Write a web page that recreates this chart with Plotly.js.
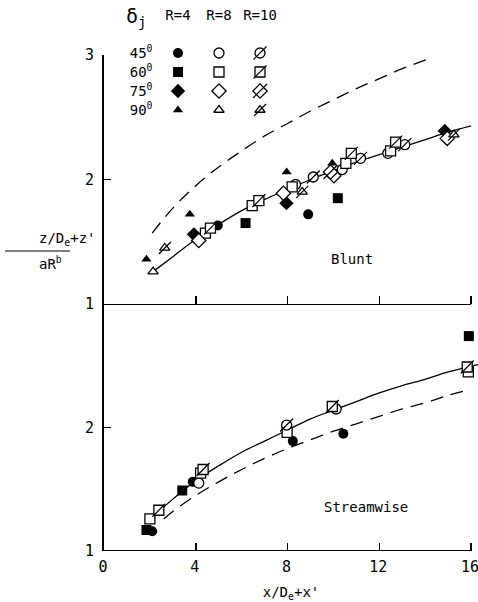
<!DOCTYPE html>
<html><head><meta charset="utf-8">
<script src="https://cdn.plot.ly/plotly-3.0.1.min.js"></script>
<style>body{margin:0;background:#fff}#chart{width:478px;height:602px}</style>
</head><body><div id="chart"></div><script>
// ---------- legend key categories ----------
const rLabels = ['R=4', 'R=8', 'R=10'];
const deltaLabels = ['45<sup>0</sup>', '60<sup>0</sup>', '75<sup>0</sup>', '90<sup>0</sup>'];
const xTicks = [0, 4, 8, 12, 16];
const yTicksTop = [1, 2, 3];
const yTicksBottom = [1, 2];

// ---------- Blunt panel (top) ----------
const blunt45R4X = [4.96, 8.90];              const blunt45R4Y = [1.63, 1.72];
const blunt60R4X = [6.17, 10.19];             const blunt60R4Y = [1.65, 1.85];
const blunt75R4X = [3.92, 7.95, 14.85];       const blunt75R4Y = [1.56, 1.81, 2.39];
const blunt90R4X = [1.85, 3.74, 7.96, 9.95];  const blunt90R4Y = [1.36, 1.72, 2.06, 2.13];
const blunt45R8X = [8.35, 10.38, 12.37];      const blunt45R8Y = [1.96, 2.08, 2.21];
const blunt60R8X = [4.42, 6.46, 8.20, 10.54, 12.49]; const blunt60R8Y = [1.57, 1.79, 1.94, 2.13, 2.23];
const blunt75R8X = [4.13, 7.82, 10.02, 14.96]; const blunt75R8Y = [1.51, 1.89, 2.03, 2.33];
const blunt90R8X = [2.14];                    const blunt90R8Y = [1.26];
const blunt45R10X = [9.12, 11.18, 13.11];     const blunt45R10Y = [2.02, 2.17, 2.28];
const blunt60R10X = [4.64, 6.75, 10.78, 12.71]; const blunt60R10Y = [1.61, 1.83, 2.21, 2.30];
const blunt75R10X = [9.87];                   const blunt75R10Y = [2.06];
const blunt90R10X = [2.65, 8.64, 15.25];      const blunt90R10Y = [1.45, 1.90, 2.36];
const bluntFitX  = [2.14, 3, 4, 5, 6, 7, 8, 9, 10, 11, 12, 13, 14, 15, 16];
const bluntFitY  = [1.26, 1.38, 1.52, 1.64, 1.75, 1.84, 1.92, 2.00, 2.07, 2.14, 2.20, 2.26, 2.32, 2.38, 2.43];
const bluntDashX = [2.1, 3, 4, 5, 6, 7, 8, 9, 10, 11, 12, 13, 14.3];
const bluntDashY = [1.57, 1.77, 1.95, 2.10, 2.23, 2.35, 2.45, 2.55, 2.64, 2.73, 2.81, 2.89, 2.98];

// ---------- Streamwise panel (bottom) ----------
const stream45R4X = [2.10, 3.87, 8.23, 10.43]; const stream45R4Y = [1.16, 1.56, 1.89, 1.95];
const stream60R4X = [1.85, 3.41, 15.90];       const stream60R4Y = [1.17, 1.49, 2.74];
const stream45R8X = [4.13, 10.12];             const stream45R8Y = [1.55, 2.15];
const stream60R8X = [2.00, 4.21, 7.98, 15.88]; const stream60R8Y = [1.26, 1.63, 1.96, 2.45];
const stream45R10X = [7.96];                   const stream45R10Y = [2.02];
const stream60R10X = [2.39, 4.32, 9.95, 15.83]; const stream60R10Y = [1.33, 1.66, 2.17, 2.49];
const streamFitX  = [1.9, 2.4, 3, 4, 5, 6, 7, 8, 9, 10, 11, 12, 13, 14, 15, 16.3];
const streamFitY  = [1.22, 1.32, 1.42, 1.57, 1.69, 1.80, 1.89, 1.98, 2.07, 2.14, 2.21, 2.28, 2.34, 2.39, 2.45, 2.51];
const streamDashX = [2.6, 3, 4, 5, 6, 7, 8, 9, 10, 11, 12, 13, 14, 15, 16];
const streamDashY = [1.26, 1.32, 1.45, 1.56, 1.66, 1.75, 1.83, 1.90, 1.97, 2.03, 2.09, 2.15, 2.20, 2.26, 2.31];

// ---------- styling ----------
const FONT = '"DejaVu Sans Mono", "Liberation Mono", monospace';
const shapes = ['circle', 'square', 'diamond', 'triangle-up'];
const sizes = [10, 10, 11, 9];

function markerTraces(x, y, d, r, xa, ya) {
  const out = [];
  out.push({
    type: 'scatter', mode: 'markers', x: x, y: y, xaxis: xa, yaxis: ya,
    cliponaxis: false, hoverinfo: 'skip', showlegend: false,
    marker: { symbol: shapes[d], size: sizes[d], color: r === 0 ? 'black' : 'white',
              line: { color: 'black', width: r === 0 ? 0 : 1.3 } }
  });
  if (r === 2) {
    out.push({
      type: 'scatter', mode: 'markers', x: x, y: y, xaxis: xa, yaxis: ya,
      cliponaxis: false, hoverinfo: 'skip', showlegend: false,
      marker: { symbol: 'line-ne', size: sizes[d] + 3, color: 'black',
                line: { color: 'black', width: 1.2 } }
    });
  }
  return out;
}
function lineTrace(x, y, dash, xa, ya) {
  return { type: 'scatter', mode: 'lines', x: x, y: y, xaxis: xa, yaxis: ya,
           hoverinfo: 'skip', showlegend: false,
           line: { color: 'black', width: 1.3, dash: dash, shape: 'spline' } };
}

const bluntSets = [
  [blunt45R4X, blunt45R4Y, 0, 0], [blunt60R4X, blunt60R4Y, 1, 0],
  [blunt75R4X, blunt75R4Y, 2, 0], [blunt90R4X, blunt90R4Y, 3, 0],
  [blunt45R8X, blunt45R8Y, 0, 1], [blunt60R8X, blunt60R8Y, 1, 1],
  [blunt75R8X, blunt75R8Y, 2, 1], [blunt90R8X, blunt90R8Y, 3, 1],
  [blunt45R10X, blunt45R10Y, 0, 2], [blunt60R10X, blunt60R10Y, 1, 2],
  [blunt75R10X, blunt75R10Y, 2, 2], [blunt90R10X, blunt90R10Y, 3, 2]
];
const streamSets = [
  [stream45R4X, stream45R4Y, 0, 0], [stream60R4X, stream60R4Y, 1, 0],
  [stream45R8X, stream45R8Y, 0, 1], [stream60R8X, stream60R8Y, 1, 1],
  [stream45R10X, stream45R10Y, 0, 2], [stream60R10X, stream60R10Y, 1, 2]
];

let traces = [];
traces.push(lineTrace(bluntFitX, bluntFitY, 'solid', 'x2', 'y2'));
traces.push(lineTrace(bluntDashX, bluntDashY, '13px,8px', 'x2', 'y2'));
traces.push(lineTrace(streamFitX, streamFitY, 'solid', 'x', 'y'));
traces.push(lineTrace(streamDashX, streamDashY, '13px,8px', 'x', 'y'));
bluntSets.forEach(s => { traces = traces.concat(markerTraces(s[0], s[1], s[2], s[3], 'x2', 'y2')); });
streamSets.forEach(s => { traces = traces.concat(markerTraces(s[0], s[1], s[2], s[3], 'x', 'y')); });

// legend key grid (rows = delta_j, columns = R)
deltaLabels.forEach((dl, d) => {
  rLabels.forEach((rl, r) => {
    traces = traces.concat(markerTraces([rl], [dl], d, r, 'x3', 'y3'));
  });
});

// geometry: plot area 104..478 px horizontally, 10..551 px vertically
const H = 541;
const splitY = (551 - 304) / H;
const topY = (551 - 55) / H;

const tickFont = { family: FONT, size: 15, color: 'black' };
const keyFont = { family: FONT, size: 14, color: 'black' };
const layout = {
  width: 478, height: 602,
  margin: { l: 104, r: 0, t: 10, b: 51 },
  paper_bgcolor: 'white', plot_bgcolor: 'rgba(0,0,0,0)',
  showlegend: false,
  font: { family: FONT, color: 'black', size: 14 },
  xaxis: { domain: [0, 1], range: [0, 16.3], anchor: 'y', tickvals: xTicks,
           ticks: 'inside', ticklen: 8, tickwidth: 1.5, tickcolor: 'black',
           showline: false, showgrid: false, zeroline: false, tickfont: tickFont,
           ticklabeloverflow: 'allow', ticklabelstandoff: 5, ticklabelshift: -1,
           title: { text: "x/D<sub>e</sub>+x'", font: { family: FONT, size: 14 }, standoff: 16 } },
  xaxis2: { domain: [0, 1], range: [0, 16.3], anchor: 'y2', matches: 'x', tickvals: xTicks,
            ticks: 'inside', ticklen: 8, tickwidth: 1.5, tickcolor: 'black',
            showticklabels: false, showline: false, showgrid: false, zeroline: false },
  yaxis: { domain: [0, splitY], range: [1, 3], anchor: 'x', tickvals: yTicksBottom,
           ticks: 'inside', ticklen: 7, tickwidth: 1.5, tickcolor: 'black',
           showline: true, linewidth: 2, linecolor: 'black', showgrid: false, zeroline: false,
           tickfont: tickFont, ticklabelstandoff: 5 },
  yaxis2: { domain: [splitY, topY], range: [1, 3], anchor: 'x2', tickvals: yTicksTop,
            ticks: 'inside', ticklen: 7, tickwidth: 1.5, tickcolor: 'black',
            showline: true, linewidth: 2, linecolor: 'black', showgrid: false, zeroline: false,
            tickfont: tickFont, ticklabelstandoff: 5 },
  xaxis3: { domain: [(157.5 - 104) / 374, (280.5 - 104) / 374], anchor: 'y3', type: 'category',
            categoryorder: 'array', categoryarray: rLabels, range: [-0.5, 2.5], side: 'top',
            tickmode: 'array', tickvals: rLabels, ticktext: rLabels,
            showline: false, showgrid: false, zeroline: false, ticks: '',
            tickfont: keyFont, ticklabelstandoff: 20, ticklabeloverflow: 'allow' },
  yaxis3: { domain: [(551 - 119.5) / H, (551 - 43.5) / H], anchor: 'x3', type: 'category',
            categoryorder: 'array', categoryarray: deltaLabels, range: [3.5, -0.5],
            tickmode: 'array', tickvals: deltaLabels, ticktext: deltaLabels,
            showline: false, showgrid: false, zeroline: false, ticks: '',
            tickfont: keyFont, ticklabelstandoff: 4, ticklabeloverflow: 'allow' },
  shapes: [
    { type: 'line', xref: 'x', yref: 'y', x0: 0, x1: 16, y0: 1, y1: 1, line: { color: 'black', width: 2 } },
    { type: 'line', xref: 'x', yref: 'y', x0: 0, x1: 16, y0: 3, y1: 3, line: { color: 'black', width: 2 } },
    { type: 'line', xref: 'paper', yref: 'paper', x0: (5 - 104) / 374, x1: (70 - 104) / 374,
      y0: (551 - 251) / H, y1: (551 - 251) / H, line: { color: 'black', width: 1 } }
  ],
  annotations: [
    { xref: 'x2', yref: 'y2', x: 10.83, y: 1.36, text: 'Blunt', showarrow: false,
      font: { family: FONT, size: 14 } },
    { xref: 'x', yref: 'y', x: 11.4, y: 1.36, text: 'Streamwise', showarrow: false,
      font: { family: FONT, size: 14 } },
    { xref: 'paper', yref: 'paper', x: (124 - 104) / 374, y: 1.0, yanchor: 'top',
      yshift: 8, text: 'δ<sub>j</sub>', showarrow: false, font: { family: FONT, size: 20 } },
    { xref: 'paper', yref: 'paper', x: (37 - 104) / 374, y: (551 - 239) / H,
      text: "z/D<sub>e</sub>+z'", showarrow: false, font: { family: FONT, size: 14 } },
    { xref: 'paper', yref: 'paper', x: (37 - 104) / 374, y: (551 - 263) / H,
      text: 'aR<sup>b</sup>', showarrow: false, font: { family: FONT, size: 14 } }
  ]
};

Plotly.newPlot('chart', traces, layout, { displayModeBar: false, staticPlot: true });
</script></body></html>
